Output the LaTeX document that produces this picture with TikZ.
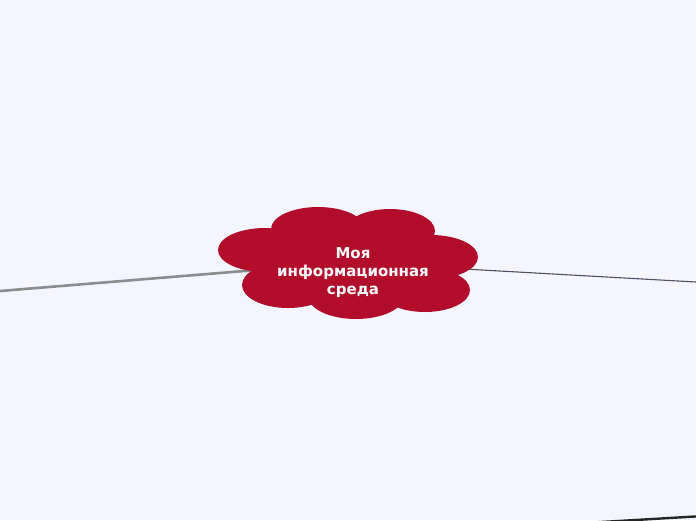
\documentclass[tikz,border=0pt]{standalone}
\usepackage{fontspec}
\usepackage{tikz}
\newfontfamily\cloudfont{DejaVu Sans}
\definecolor{paper}{RGB}{243,246,255}
\definecolor{cloudred}{RGB}{178,13,42}
\definecolor{branchgray}{RGB}{140,140,144}
\definecolor{branchdark}{RGB}{80,80,86}

\begin{document}
\begin{tikzpicture}[x=1pt, y=-1pt]
  \tikzset{
    lobe/.style={fill=cloudred},
    thickbranch/.style={draw=branchgray, line width=2.6pt},
    thinbranch/.style={draw=branchdark, line width=1.1pt},
    edgebranch/.style={draw=black!85, line width=2.4pt},
  }
  \fill[paper] (0,0) rectangle (696,520);
  \useasboundingbox (0,0) rectangle (696,520);
  \clip (0,0) rectangle (696,520);
  %
  \coordinate (hub) at (348,262.5);
  \coordinate (westEnd) at (0,291);
  \coordinate (eastEnd) at (696,282);
  \coordinate (southA) at (598,522.2);
  \coordinate (southB) at (700,516.2);
  %
  \draw [thickbranch] (hub) -- (westEnd);
  \draw [thinbranch] (hub) -- (eastEnd);
  \draw [edgebranch] (southA) -- (southB);
  %
  \fill [cloudred] (352,262) ellipse [x radius=100pt, y radius=35pt];
  \foreach \cx/\cy/\rx/\ry in {318/229/47/22, 390/231/45/22, 265/250/47/22,
      431/257/47/22, 288/285/46/23, 356/296/48/23, 425/290/45/22} {
    \fill [lobe] (\cx,\cy) ellipse [x radius=\rx pt, y radius=\ry pt];
  }
  %
  \node [align=center, text=white, font=\cloudfont\bfseries\fontsize{15}{18}\selectfont]
    (root) at (353,273) {Моя\\информационная\\среда};
\end{tikzpicture}
\end{document}
